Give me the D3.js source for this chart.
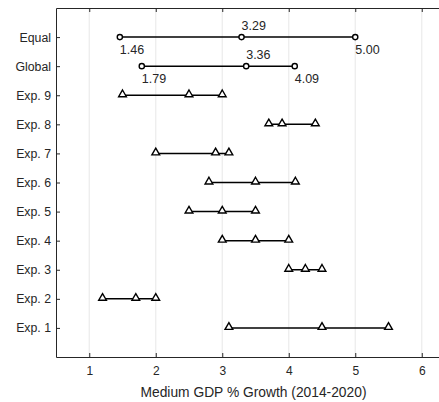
<!DOCTYPE html>
<html><head><meta charset="utf-8">
<script src="https://cdn.jsdelivr.net/npm/d3@7"></script>
<style>body{margin:0;background:#fff}svg{display:block}</style>
</head><body>
<script>
const categories = ["Exp. 1","Exp. 2","Exp. 3","Exp. 4","Exp. 5","Exp. 6","Exp. 7","Exp. 8","Exp. 9","Global","Equal"];
const lowValues  = [3.1, 1.2, 4.0, 3.0, 2.5, 2.8, 2.0, 3.7, 1.5, 1.79, 1.46];
const midValues  = [4.5, 1.7, 4.25, 3.5, 3.0, 3.5, 2.9, 3.9, 2.5, 3.36, 3.29];
const highValues = [5.5, 2.0, 4.5, 4.0, 3.5, 4.1, 3.1, 4.4, 3.0, 4.09, 5.00];
const markerTypes = ["tri","tri","tri","tri","tri","tri","tri","tri","tri","circle","circle"];
const xTicks = [1,2,3,4,5,6];
const xLabel = "Medium GDP % Growth (2014-2020)";

const W = 439, H = 402;
const m = {left:56, top:8, bottom:357};
const FONT = "'Liberation Sans', Arial, sans-serif";
const svg = d3.select("body").append("svg").attr("width",W).attr("height",H)
  .style("font-family",FONT);

const x = d3.scaleLinear().domain([0.5,6.5]).range([m.left, 455]);
const y = d3.scaleLinear().domain([0,12]).range([m.bottom, m.top]);

// grid
svg.append("g").selectAll("line").data(xTicks).join("line")
  .attr("x1",d=>x(d)).attr("x2",d=>x(d)).attr("y1",m.top).attr("y2",m.bottom)
  .attr("stroke","#ebebeb").attr("stroke-width",1.2);

// bottom axis
const xAxis = d3.axisBottom(x).tickValues(xTicks).tickFormat(d3.format("d")).tickSizeInner(-4).tickSizeOuter(0).tickPadding(9);
const gx = svg.append("g").attr("transform",`translate(0,${m.bottom})`).call(xAxis);
gx.select(".domain").attr("stroke","#262626");
gx.selectAll(".tick line").attr("stroke","#262626");
gx.selectAll("text").attr("font-size",12).attr("fill","#262626").attr("font-family",FONT);

// top axis
const xTop = d3.axisTop(x).tickValues(xTicks).tickFormat("").tickSizeInner(-4).tickSizeOuter(0);
const gt = svg.append("g").attr("transform",`translate(0,${m.top})`).call(xTop);
gt.select(".domain").attr("stroke","#262626");
gt.selectAll(".tick line").attr("stroke","#262626");

// left axis
const yAxis = d3.axisLeft(y).tickValues(d3.range(1,12)).tickFormat((d)=>categories[d-1]).tickSizeInner(-4).tickSizeOuter(0).tickPadding(5);
const gy = svg.append("g").attr("transform",`translate(${m.left},0)`).call(yAxis);
gy.select(".domain").attr("stroke","#262626");
gy.selectAll(".tick line").attr("stroke","#262626");
gy.selectAll("text").attr("font-size",12.3).attr("fill","#262626").attr("font-family",FONT);

// x label
svg.append("text").attr("x",(x(1)+x(6))/2 - 2).attr("y",397).attr("text-anchor","middle")
  .attr("font-size",13.8).attr("fill","#262626").text(xLabel);

const rows = categories.map((c,i)=>({c, i, lo:lowValues[i], mid:midValues[i], hi:highValues[i], t:markerTypes[i]}));

// range lines
svg.append("g").selectAll("line").data(rows).join("line")
  .attr("x1",d=>x(d.lo)).attr("x2",d=>x(d.hi)).attr("y1",d=>y(d.i+1)).attr("y2",d=>y(d.i+1))
  .attr("stroke","#000").attr("stroke-width",1.5);

const tri = d3.symbol().type(d3.symbolTriangle).size(26);
rows.forEach(r=>{
  const yy = y(r.i+1);
  [r.lo, r.mid, r.hi].forEach(v=>{
    if(r.t==="circle"){
      svg.append("circle").attr("cx",x(v)).attr("cy",yy).attr("r",2.6)
        .attr("fill","#fff").attr("stroke","#000").attr("stroke-width",1.4);
    } else {
      svg.append("path").attr("d",tri).attr("transform",`translate(${x(v)},${yy-0.8})`)
        .attr("fill","#fff").attr("stroke","#000").attr("stroke-width",1.4);
    }
  });
  if(r.t==="circle"){
    const f = d3.format(".2f");
    svg.append("text").attr("x",x(r.mid)).attr("y",yy-7).attr("font-size",12.5).attr("fill","#262626").text(f(r.mid));
    svg.append("text").attr("x",x(r.lo)).attr("y",yy+17).attr("font-size",12.5).attr("fill","#262626").text(f(r.lo));
    svg.append("text").attr("x",x(r.hi)).attr("y",yy+17).attr("font-size",12.5).attr("fill","#262626").text(f(r.hi));
  }
});
</script>
</body></html>
